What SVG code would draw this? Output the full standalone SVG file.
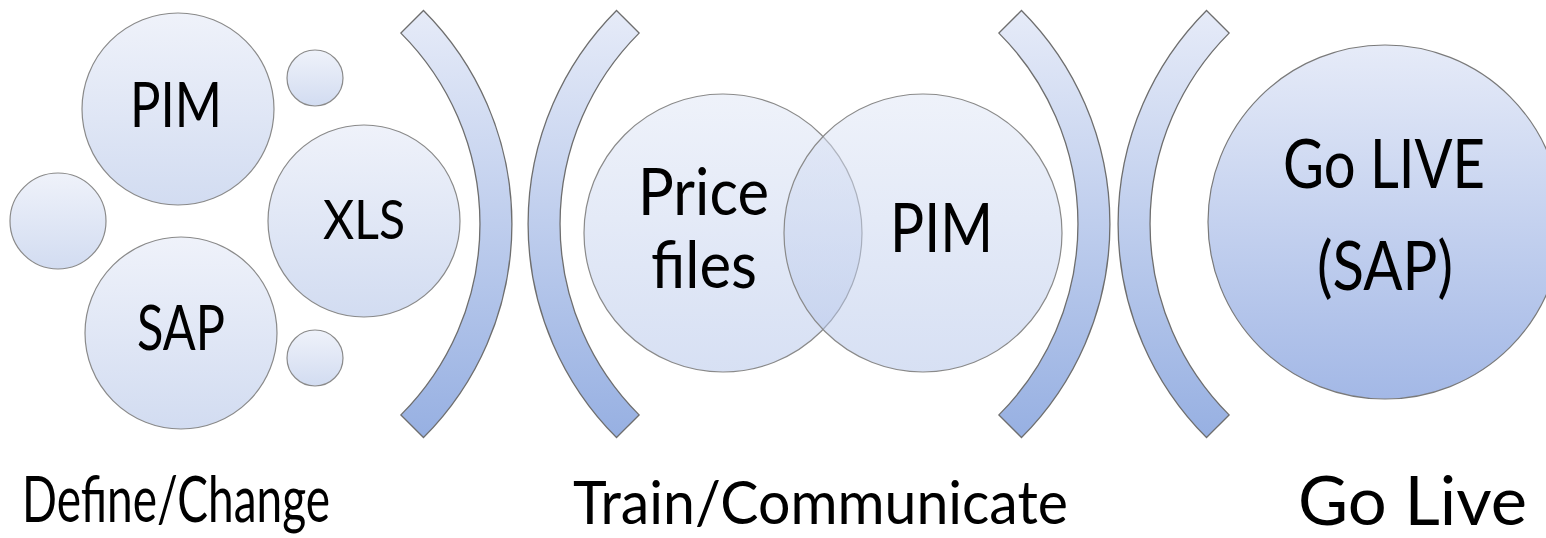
<svg xmlns="http://www.w3.org/2000/svg" width="1546" height="538" viewBox="0 0 1546 538">
<style>
.c{stroke:#8a8a8a;stroke-width:1.2}
.a{fill:url(#ga);stroke:#6e6e6e;stroke-width:1.3}
.t{font-family:Lato,"Open Sans","Liberation Sans",sans-serif;fill:#000;text-anchor:start}
</style>
<defs>
<linearGradient id="gc" x1="0" y1="0" x2="0" y2="1">
<stop offset="0" stop-color="#eff2fa"/><stop offset="1" stop-color="#d2dcf1"/>
</linearGradient>
<linearGradient id="gv" x1="0" y1="0" x2="0" y2="1">
<stop offset="0" stop-color="#dee5f5" stop-opacity="0.5"/><stop offset="1" stop-color="#afc1e8" stop-opacity="0.5"/>
</linearGradient>
<linearGradient id="gg" x1="0" y1="0" x2="0" y2="1">
<stop offset="0" stop-color="#e6ebf8"/><stop offset="1" stop-color="#a3b8e6"/>
</linearGradient>
<linearGradient id="ga" x1="0" y1="0" x2="0" y2="1">
<stop offset="0" stop-color="#e6ebf8"/><stop offset="1" stop-color="#97b0e2"/>
</linearGradient>
</defs>
<rect width="1546" height="538" fill="#fff"/>

<g id="arc1"><path class="a" d="M423.5,10.5 A302,302 0 0 1 423.5,437.5 L400.9,414.9 A270,270 0 0 0 400.9,33.1 Z"/></g>
<g id="arc2"><path class="a" d="M616.5,10.5 A302,302 0 0 0 616.5,437.5 L639.1,414.9 A270,270 0 0 1 639.1,33.1 Z"/></g>
<g id="arc3"><path class="a" d="M1021.5,10.5 A302,302 0 0 1 1021.5,437.5 L998.9,414.9 A270,270 0 0 0 998.9,33.1 Z"/></g>
<g id="arc4"><path class="a" d="M1206.5,10.5 A302,302 0 0 0 1206.5,437.5 L1229.1,414.9 A270,270 0 0 1 1229.1,33.1 Z"/></g>

<g id="pim1"><circle class="c" cx="178" cy="109" r="96" fill="url(#gc)"/><text class="t" x="130" y="127" font-size="62" textLength="92" lengthAdjust="spacingAndGlyphs">PIM</text></g>
<g id="small1"><circle class="c" cx="315" cy="78" r="28" fill="url(#gc)"/></g>
<g id="small2"><circle class="c" cx="58" cy="221" r="48" fill="url(#gc)"/></g>
<g id="xls"><circle class="c" cx="364" cy="221" r="96" fill="url(#gc)"/><text class="t" x="323" y="239" font-size="55" textLength="82" lengthAdjust="spacingAndGlyphs">XLS</text></g>
<g id="sap1"><circle class="c" cx="181" cy="333" r="96" fill="url(#gc)"/><text class="t" x="137" y="350" font-size="62" textLength="88" lengthAdjust="spacingAndGlyphs">SAP</text></g>
<g id="small3"><circle class="c" cx="315" cy="358" r="28" fill="url(#gc)"/></g>

<g id="price"><circle class="c" cx="723" cy="233" r="139" fill="url(#gv)"/><text class="t" x="638" y="215" font-size="66" textLength="131" lengthAdjust="spacingAndGlyphs">Price</text><text class="t" x="651" y="288" font-size="66" textLength="106" lengthAdjust="spacingAndGlyphs">files</text></g>
<g id="pim2"><circle class="c" cx="923" cy="233" r="139" fill="url(#gv)"/><text class="t" x="890" y="252" font-size="68" textLength="103" lengthAdjust="spacingAndGlyphs">PIM</text></g>

<g id="golive"><circle cx="1385" cy="222" r="177" fill="url(#gg)" stroke="#7a7a7a" stroke-width="1.2"/><text class="t" x="1283" y="188" font-size="67" textLength="202" lengthAdjust="spacingAndGlyphs">Go LIVE</text><text class="t" x="1317" y="290" font-size="67" textLength="136" lengthAdjust="spacingAndGlyphs">(SAP)</text></g>

<g id="labels">
<text class="t" x="22" y="522" font-size="64" textLength="308" lengthAdjust="spacingAndGlyphs">Define/Change</text>
<text class="t" x="573" y="524" font-size="60" textLength="495" lengthAdjust="spacingAndGlyphs">Train/Communicate</text>
<text class="t" x="1298" y="525" font-size="68" textLength="229" lengthAdjust="spacingAndGlyphs">Go Live</text>
</g>
</svg>
